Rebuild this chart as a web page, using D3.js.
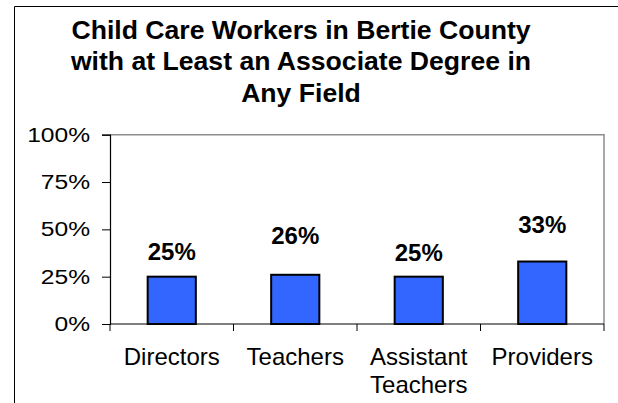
<!DOCTYPE html>
<html>
<head>
<meta charset="utf-8">
<script src="https://d3js.org/d3.v7.min.js"></script>
<style>
  body { margin: 0; background: #fff; }
  text { font-family: "Liberation Sans", Arial, sans-serif; }
</style>
</head>
<body>
<svg id="chart" width="618" height="403"></svg>
<script>
  // data
  let categories = [["Directors"], ["Teachers"], ["Assistant", "Teachers"], ["Providers"]];
  let values = [0.25, 0.26, 0.25, 0.33];
  let valueLabels = ["25%", "26%", "25%", "33%"];
  let yTicks = [0, 0.25, 0.5, 0.75, 1];
  let titleLines = ["Child Care Workers in Bertie County", "with at Least an Associate Degree in", "Any Field"];

  // label lift above each bar (Excel had them placed by hand)
  let labelLift = [17, 31, 16, 29];

  let svg = d3.select("#chart");

  // outer chart border (only left and top show)
  svg.append("path")
    .attr("d", "M14.5,403 L14.5,6.5 L618,6.5")
    .attr("fill", "none")
    .attr("stroke", "black")
    .attr("stroke-width", 1);

  // title
  svg.append("g").selectAll("text")
    .data(titleLines)
    .join("text")
    .attr("x", 301)
    .attr("y", (d, i) => 38.5 + i * 31.6)
    .attr("text-anchor", "middle")
    .attr("font-size", 26.6)
    .attr("font-weight", "bold")
    .text(d => d);

  let plotL = 110, plotR = 604, plotT = 134.7, plotB = 324;

  let x = d3.scaleBand()
    .domain(d3.range(categories.length))
    .range([plotL, plotR])
    .paddingInner(0)
    .paddingOuter(0);

  let y = d3.scaleLinear()
    .domain([0, 1])
    .range([plotB, plotT]);

  // plot frame, grey on top and right
  svg.append("path")
    .attr("d", `M${plotL},${plotT} L${plotR},${plotT} L${plotR},${plotB}`)
    .attr("fill", "none")
    .attr("stroke", "#8c8c8c")
    .attr("stroke-width", 1.5);

  // y axis
  let yAxis = d3.axisLeft(y)
    .tickValues(yTicks)
    .tickFormat(d3.format(".0%"))
    .tickSize(8)
    .tickPadding(12);
  let gy = svg.append("g")
    .attr("transform", `translate(${plotL},0)`)
    .call(yAxis);
  gy.select(".domain").attr("stroke", "black").attr("stroke-width", 1.2);
  gy.selectAll(".tick line").attr("stroke", "black");
  // tick labels in the picture are a bit wider than tall
  gy.selectAll(".tick text")
    .attr("x", -20 / 1.2)
    .attr("transform", "scale(1.2,1)")
    .attr("font-size", 20.5)
    .attr("font-family", "Liberation Sans, Arial, sans-serif")
    .attr("fill", "black");

  // x axis, ticks between the categories
  svg.append("line")
    .attr("x1", plotL).attr("x2", plotR)
    .attr("y1", plotB).attr("y2", plotB)
    .attr("stroke", "black")
    .attr("stroke-width", 1.2);
  let bounds = x.domain().map(d => x(d)).concat([plotR]);
  svg.append("g").selectAll("line")
    .data(bounds)
    .join("line")
    .attr("x1", d => d).attr("x2", d => d)
    .attr("y1", plotB).attr("y2", plotB + 7)
    .attr("stroke", "black");

  let catText = svg.append("g").selectAll("text")
    .data(categories)
    .join("text")
    .attr("x", (d, i) => x(i) + x.bandwidth() / 2)
    .attr("y", 364.5)
    .attr("text-anchor", "middle")
    .attr("font-size", 24)
    .attr("fill", "black");
  catText.selectAll("tspan")
    .data(d => d)
    .join("tspan")
    .attr("x", function() { return this.parentNode.getAttribute("x"); })
    .attr("dy", (d, i) => i === 0 ? 0 : 28.5)
    .text(d => d);

  // bars
  let barW = x.bandwidth() * 0.39;
  svg.append("g").selectAll("rect")
    .data(values)
    .join("rect")
    .attr("x", (d, i) => x(i) + (x.bandwidth() - barW) / 2)
    .attr("y", d => y(d))
    .attr("width", barW)
    .attr("height", d => plotB - y(d))
    .attr("fill", "#3366ff")
    .attr("stroke", "black")
    .attr("stroke-width", 2);

  // value labels
  svg.append("g").selectAll("text")
    .data(values)
    .join("text")
    .attr("x", (d, i) => x(i) + x.bandwidth() / 2)
    .attr("y", (d, i) => y(d) - labelLift[i])
    .attr("text-anchor", "middle")
    .attr("font-size", 24)
    .attr("font-weight", "bold")
    .text((d, i) => valueLabels[i]);
</script>
</body>
</html>
